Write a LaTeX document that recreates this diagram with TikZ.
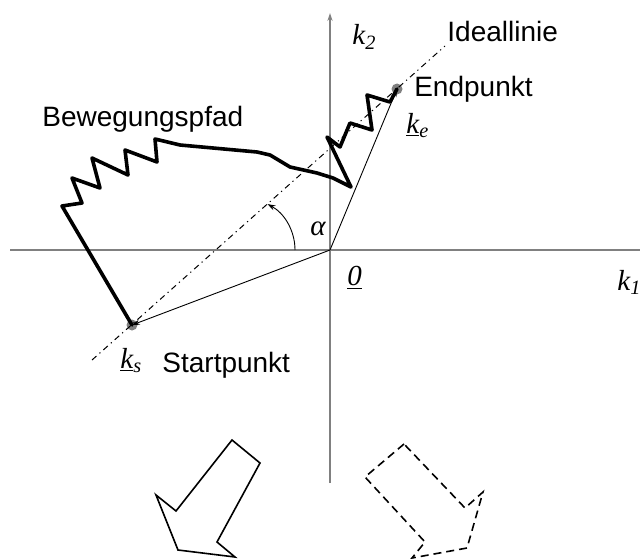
\documentclass[tikz,border=0pt]{standalone}
\usepackage{fontspec}
\setmainfont{Liberation Sans}
\newfontfamily\timesfont{Liberation Serif}
\usetikzlibrary{arrows.meta, positioning}

\newcommand{\uvec}[2]{\underline{#1}\textsubscript{#2}}

\begin{document}
\begin{tikzpicture}[
  x=0.5pt, y=0.5pt,
  achse/.style={black!50, line width=0.7pt},
  vec/.style={-{Stealth[length=4pt, width=2.6pt]}, line width=0.45pt},
  ideal/.style={line width=0.5pt, dash pattern=on 3pt off 2pt on 0.6pt off 2pt},
  pfad/.style={line width=1.8pt, line join=round, line cap=round},
  punkt/.style={circle, fill=black!50, minimum size=5.5pt, inner sep=0pt},
  beschr/.style={anchor=base west, inner sep=0pt, font=\fontsize{14}{16}\selectfont},
  sym/.style={anchor=base west, inner sep=0pt, font=\timesfont\itshape\fontsize{14.5}{16}\selectfont},
  blockpfeil/.style={line width=0.8pt, line join=miter},
]
\useasboundingbox (0,0) rectangle (640,558);

% Achsen
\coordinate (o) at (330,308);
\coordinate (x0) at (10,308);
\coordinate (x1) at (640,308);
\coordinate (y0) at (330,75);
\coordinate (y1) at (330,545);
\draw[achse] (x0) -- (x1);
\draw[achse, -{Stealth[length=4pt, width=2.6pt]}] (y0) -- (y1);

% Start- und Endpunkt
\node[punkt] (ks) at (132,233) {};
\node[punkt] (ke) at (397,469) {};

% Ideallinie
\coordinate (i0) at (92,198);
\coordinate (i1) at (445,512);
\draw[ideal] (i0) -- (i1);

% Ortsvektoren
\draw[vec] (o) -- (ks.center);
\draw[vec] (o) -- (ke.center);

% Winkel alpha
\coordinate (w0) at (295,308);
\draw[vec] (w0) arc[start angle=0, end angle=62, radius=52];

% Bewegungspfad
\draw[pfad] (ks.center) -- (62,352) -- (82,355) -- (72,380) -- (100,370)
  -- (92,400) -- (128,383) -- (125,408) -- (157,396) -- (155,419)
  -- (180,413) -- (213,410) -- (257,406) -- (270,403) -- (290,391)
  -- (317,385) -- (333,380) -- (351,371) -- (327,421) -- (340,411)
  -- (350,435) -- (372,428) -- (367,463) -- (390,456) -- (ke.center);

% Pfeile unten
\draw[blockpfeil] (232,118) -- (260,95) -- (217,16) -- (235,1) -- (178,8)
  -- (156,63) -- (176,47) -- cycle;
\draw[blockpfeil, dash pattern=on 4pt off 2.5pt] (404,114) -- (365,81)
  -- (425,16) -- (412,0) -- (467,10) -- (483,66) -- (465,50) -- cycle;

% Beschriftungen
\node[beschr] (tideal) at (447,516) {Ideallinie};
\node[beschr, right=5.5pt of ke] (tend) {Endpunkt};
\node[beschr] (tpfad) at (42,432) {Bewegungspfad};
\node[beschr] (tstart) at (162,186) {Startpunkt};

% Symbole
\node[sym] (tk2) at (352,513) {k\textsubscript{2}};
\node[sym] (tke) at (406,425) {\uvec{k}{e}};
\node[sym] (tks) at (120,190) {\uvec{k}{s}};
\node[sym] (tnull) at (347,273) {\underline{0}};
\node[sym] (tk1) at (617,268) {k\textsubscript{1}};
\node[sym] (talpha) at (310,323) {α};

\end{tikzpicture}
\end{document}
